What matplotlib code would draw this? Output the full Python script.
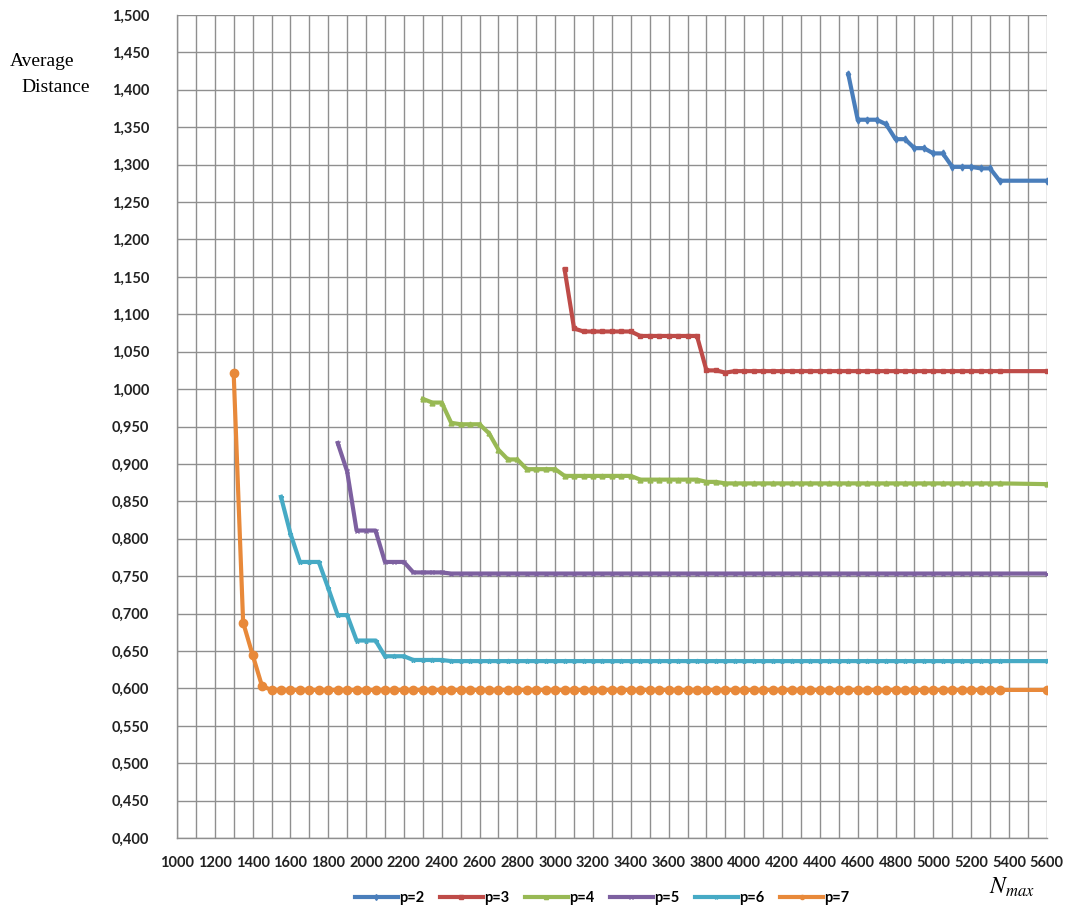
import numpy as np
import matplotlib
matplotlib.use("Agg")
import matplotlib.pyplot as plt
from matplotlib.ticker import FuncFormatter, MultipleLocator

plt.rcParams['mathtext.fontset'] = 'stix'

# ---- data ----
labels = ["p=2", "p=3", "p=4", "p=5", "p=6", "p=7"]
colors = ["#4A7EBB", "#BE4B48", "#98B954", "#7D60A0", "#46AAC5", "#E8893A"]
markers = ["d", "s", "^", "x", "*", "o"]

x_p2 = [4550, 4600, 4650, 4700, 4750, 4800, 4850, 4900, 4950, 5000, 5050,
        5100, 5150, 5200, 5250, 5300, 5350, 5600]
y_p2 = [1.421, 1.360, 1.360, 1.360, 1.354, 1.334, 1.334, 1.322, 1.322, 1.315,
        1.315, 1.297, 1.297, 1.297, 1.295, 1.295, 1.2785, 1.2785]

x_p3 = list(range(3050, 5351, 50)) + [5600]
y_p3 = ([1.160, 1.081] + [1.077] * 6 + [1.071] * 7 + [1.025, 1.025, 1.022]
        + [1.024] * 29 + [1.024])

x_p4 = list(range(2300, 5351, 50)) + [5600]
y_p4 = ([0.987, 0.982, 0.982, 0.955, 0.953, 0.953, 0.953, 0.941, 0.919,
         0.906, 0.906, 0.893, 0.893, 0.893, 0.893] + [0.884] * 8
        + [0.879] * 7 + [0.876, 0.876] + [0.874] * 30 + [0.873])

x_p5 = list(range(1850, 5351, 50)) + [5600]
y_p5 = ([0.928, 0.890, 0.811, 0.811, 0.811, 0.769, 0.769, 0.769]
        + [0.755] * 4 + [0.7535] * 59 + [0.7535])

x_p6 = list(range(1550, 5351, 50)) + [5600]
y_p6 = ([0.856, 0.807, 0.769, 0.769, 0.769, 0.734, 0.698, 0.698, 0.664,
         0.664, 0.664, 0.643, 0.643, 0.643] + [0.638] * 4 + [0.6365] * 59
        + [0.6365])

x_p7 = list(range(1300, 5351, 50)) + [5600]
y_p7 = [1.021, 0.688, 0.645, 0.603] + [0.598] * 78 + [0.598]

xs = [x_p2, x_p3, x_p4, x_p5, x_p6, x_p7]
ys = [y_p2, y_p3, y_p4, y_p5, y_p6, y_p7]

# ---- figure ----
fig = plt.figure(figsize=(10.66, 9.07), dpi=100)
ax = fig.add_axes([0.166, 0.076, 0.816, 0.9075])

for x, y, lab, c, m in zip(xs, ys, labels, colors, markers):
    ms = 6 if m == "o" else 3.5
    ax.plot(x, y, color=c, lw=3.0, marker=m, ms=ms, mew=1.0,
            mfc=c, mec=c, label=lab, solid_joinstyle='round', zorder=3)

ax.set_xlim(1000, 5600)
ax.set_ylim(0.4, 1.5)
ax.xaxis.set_major_locator(MultipleLocator(200))
ax.xaxis.set_minor_locator(MultipleLocator(100))
ax.yaxis.set_major_locator(MultipleLocator(0.05))
ax.yaxis.set_major_formatter(FuncFormatter(lambda v, p: f"{v:.3f}".replace(".", ",")))
ax.xaxis.set_major_formatter(FuncFormatter(lambda v, p: f"{int(round(v))}"))

ax.grid(True, which='both', color='#8f8f8f', lw=1.0)
ax.set_axisbelow(True)
ax.tick_params(which='both', length=0)
ax.tick_params(axis='x', pad=13)
ax.tick_params(axis='y', pad=20)
for lbl in ax.get_xticklabels() + ax.get_yticklabels():
    lbl.set_fontfamily('Lato')
    lbl.set_fontweight('bold')
    lbl.set_fontsize(10.5)
    lbl.set_color('#222222')
for s in ['top', 'right']:
    ax.spines[s].set_visible(False)
for s in ['left', 'bottom']:
    ax.spines[s].set_color('#8f8f8f')
    ax.spines[s].set_linewidth(1.0)

fig.text(0.009, 0.932, "Average", family='Liberation Serif', fontsize=14,
         ha='left', va='center')
fig.text(0.020, 0.903, "Distance", family='Liberation Serif', fontsize=14,
         ha='left', va='center')
fig.text(0.949, 0.022, r"$N_{max}$", fontsize=17, ha='center', va='center')

leg = fig.legend(loc='center', bbox_to_anchor=(0.565, 0.010), ncol=6,
                 frameon=False, handlelength=2.9, handletextpad=0.1,
                 columnspacing=1.1, prop={'family': 'Lato', 'weight': 'bold', 'size': 10.5})
for h in leg.get_lines():
    h.set_markersize(3)

fig.savefig("out.png", dpi=100)
